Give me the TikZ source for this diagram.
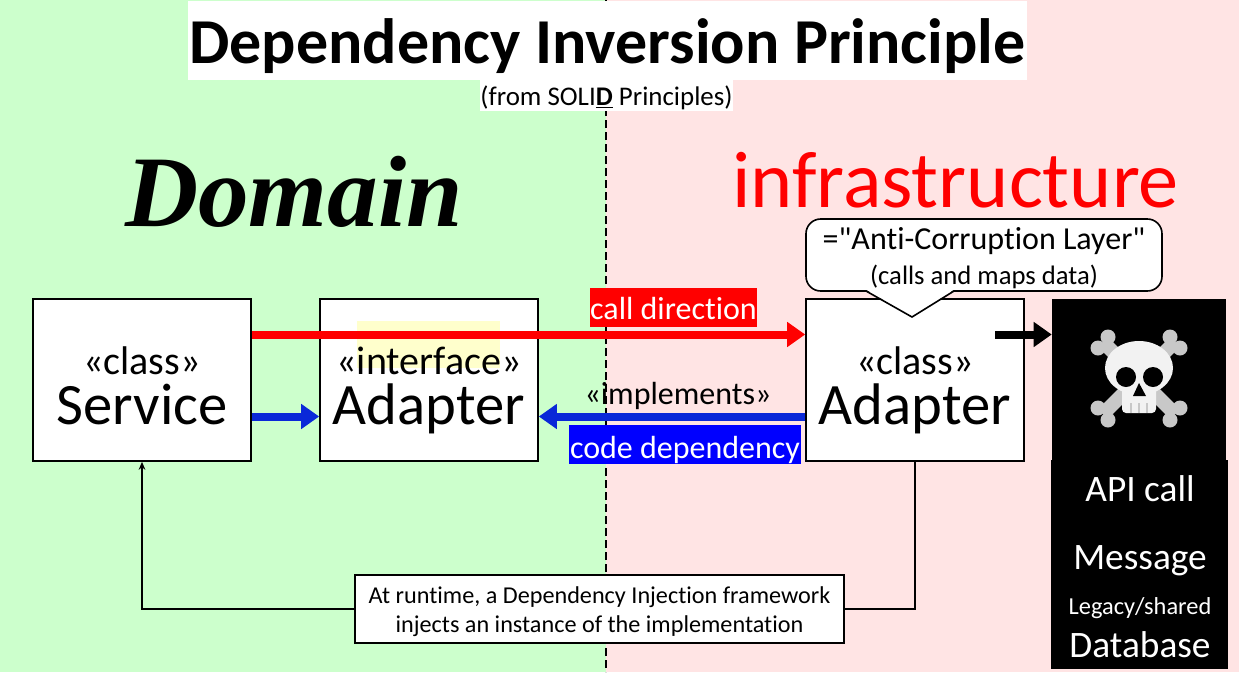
\documentclass[tikz,border=0pt]{standalone}
\usepackage{fontspec}
\setmainfont{Carlito}[Ligatures={CommonOff,TeXOff}]
\newfontfamily\domainfont{Liberation Serif}
\usetikzlibrary{arrows.meta}
\definecolor{domainbg}{HTML}{CCFFCC}
\definecolor{infrabg}{HTML}{FFE4E4}
\definecolor{arrowblue}{HTML}{0A28D8}
\definecolor{hl}{HTML}{FFFFCC}
\definecolor{bone}{HTML}{C8C8C8}
\definecolor{cranium}{HTML}{F2F2F2}
\newcommand{\fs}[1]{\fontsize{#1}{#1}\selectfont}
\newcommand{\boxfont}{\fontsize{44}{38}\selectfont}
\newcommand{\stereo}[2]{{\fs{30}\rule{0pt}{38pt}«#1»}\\#2\rule[-9pt]{0pt}{9pt}}
\tikzset{box/.style={rectangle,draw,fill=white,line width=1.2pt,minimum width=163.5pt,minimum height=121.5pt,inner sep=0pt,align=center,font=\boxfont}}
\tikzset{t/.style={anchor=base,inner sep=0pt}}
\tikzset{fat/.style={line width=6pt,-{Triangle[length=13.5pt,width=18pt]}}}
\begin{document}
\begin{tikzpicture}[x=0.75pt,y=-0.75pt]
      \useasboundingbox (0,0) rectangle (1239,672);
      \fill[domainbg] (0,0) rectangle (606,672);
      \fill[infrabg] (606,0) rectangle (1239,672);
      \coordinate (top) at (606,0);
      \coordinate (bot) at (606,672);
      \draw[line width=1.2pt,dash pattern=on 6pt off 3pt] (top) -- (bot);
      \node[t,fill=white,minimum width=629.25pt,text height=47.1pt,text depth=12.15pt,font=\bfseries\fs{48}] (title) at (607.5,63.5) {Dependency Inversion Principle};
      \node[t,fill=white,minimum width=188.25pt,text height=18.75pt,text depth=4.5pt,font=\fs{20.2}] (sub) at (606.5,105) {(from SOLI\underline{\textbf{D}} Principles)};
      \node[t,font=\domainfont\bfseries\itshape\fs{76}] (domain) at (294,226) {Domain};
      \node[t,text=red,font=\fs{60.2}] (infra) at (955.5,207) {infrastructure};
      \node[box] (S) at (142,380) {\stereo{class}{Service}};
      \node[box,path picture={\fill[hl] ([shift={(37,22)}]path picture bounding box.north west) rectangle ([shift={(180,69)}]path picture bounding box.north west);}] (I) at (429,380) {\stereo{interface}{Adapter}};
      \node[box] (C) at (915,380) {\stereo{class}{Adapter}};
      \node[rectangle,fill=black,minimum width=130.5pt,minimum height=121.5pt,inner sep=0pt] (skull) at (1139,380) {};
      \draw[bone,line width=10.5pt] (1103,342) -- (1175,414);
      \draw[bone,line width=10.5pt] (1175,342) -- (1103,414);
      \foreach \x/\y in {1108/337,1098/348,1170/337,1180/348,1098/408,1108/420,1180/408,1170/420}
        \fill[bone] (\x,\y) circle (7.5);
      \fill[cranium] (1139,368) ellipse (34 and 27);
      \fill[cranium,rounded corners=3pt] (1122,385) rectangle (1156,413);
      \fill[black] (1126,377) circle (10);
      \fill[black] (1153,377) circle (10);
      \fill[black] (1139,383) -- (1133,396) -- (1146,396) -- cycle;
      \foreach \x in {1131,1139,1147}
        \draw[bone,line width=0.9pt] (\x,403) -- (\x,413);
      \node[rectangle,fill=black,minimum width=132.75pt,minimum height=156.75pt,inner sep=0pt] (sinks) at (1139.5,564.5) {};
      \node[t,text=white,font=\fs{28}] (api) at (1140,501) {API call};
      \node[t,text=white,font=\fs{28}] (msg) at (1140,569) {Message};
      \node[t,text=white,font=\fs{18.3}] (legacy) at (1140,614) {Legacy/shared};
      \node[t,text=white,font=\fs{28}] (db) at (1140,657) {Database};
      \coordinate (pa) at (866,291);
      \coordinate (pb) at (912,317);
      \coordinate (pc) at (954,291);
      \node[rectangle,draw,fill=white,line width=1.2pt,rounded corners=11pt,minimum width=267pt,minimum height=54pt,inner sep=0pt,align=center,font=\fs{24}] (acl) at (984,255) {\rule{0pt}{21.5pt}="Anti-Corruption Layer"\\[2pt]{\fs{20}(calls and maps data)}};
      \fill[white] ([yshift=1pt]pa) -- (pb) -- ([yshift=1pt]pc) -- cycle;
      \draw[line width=1.2pt] (pa) -- (pb) -- (pc);
      \coordinate (ra) at (0,334.5);
      \coordinate (ba) at (0,416.5);
      \coordinate (bk) at (995,334.5);
      \draw[fat,red] (S.east |- ra) -- (C.west |- ra);
      \draw[fat,arrowblue] (S.east |- ba) -- (I.west |- ba);
      \draw[fat,arrowblue] (C.west |- ba) -- (I.east |- ba);
      \draw[fat,black] (bk) -- (skull.west |- bk);
      \node[t,fill=red,text=white,minimum width=125.25pt,text height=23pt,text depth=6pt,font=\fs{24}] (call) at (673.5,319) {call direction};
      \node[t,font=\fs{24}] (impl) at (678,404) {«implements»};
      \node[t,fill=blue,text=white,minimum width=174pt,text height=24.75pt,text depth=4.5pt,font=\fs{24}] (dep) at (685,458) {code dependency};
      \node[rectangle,draw,fill=white,line width=0.9pt,minimum width=366.75pt,minimum height=51pt,inner sep=0pt,align=center,font=\fs{18.15}] (inject) at (599.5,609) {\rule{0pt}{16.5pt}At runtime, a Dependency Injection framework\\[3pt]injects an instance of the implementation};
      \draw[line width=1.2pt,-{Stealth[length=6pt,width=5pt]}] (inject.west) -| (S.south);
      \draw[line width=1.2pt] (inject.east) -| (C.south);
    \end{tikzpicture}
\end{document}
